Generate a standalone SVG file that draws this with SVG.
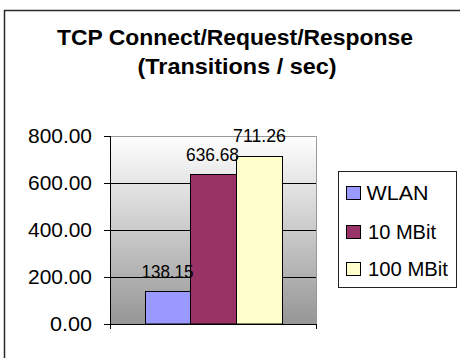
<svg xmlns="http://www.w3.org/2000/svg" width="460" height="358" viewBox="0 0 460 358">
  <defs>
    <linearGradient id="plotFill" x1="0" y1="0" x2="0" y2="1">
      <stop offset="0" stop-color="#ffffff"/>
      <stop offset="1" stop-color="#969696"/>
    </linearGradient>
  </defs>
  <style>
    text { font-family: "Liberation Sans", Arial, sans-serif; fill: #000; }
    .title { font-size: 22px; font-weight: bold; text-anchor: middle; }
    .axis { font-size: 20px; text-anchor: end; }
    .value { font-size: 19px; text-anchor: middle; }
    .legend { font-size: 21px; }
    .grid { stroke: #000; stroke-width: 1; }
    .bar { stroke: #000; stroke-width: 1; }
  </style>

  <rect x="0" y="0" width="460" height="358" fill="#ffffff"/>

  <!-- chart frame (top and left edges) -->
  <path d="M4.5,358 V10.5 H460" fill="none" stroke="#2a2a2a" stroke-width="1.5"/>

  <!-- title -->
  <g id="title">
    <text class="title" x="235" y="45" textLength="356" lengthAdjust="spacingAndGlyphs">TCP Connect/Request/Response</text>
    <text class="title" x="237" y="74" textLength="199" lengthAdjust="spacingAndGlyphs">(Transitions / sec)</text>
  </g>

  <!-- plot area -->
  <g id="plot-area">
    <rect x="110" y="136" width="206" height="188" fill="url(#plotFill)"/>
    <path d="M110,136.5 H316.5 V324" fill="none" stroke="#999999" stroke-width="1"/>
    <line class="grid" x1="104" y1="183.5" x2="316" y2="183.5"/>
    <line class="grid" x1="104" y1="230.5" x2="316" y2="230.5"/>
    <line class="grid" x1="104" y1="277.5" x2="316" y2="277.5"/>
    <line class="grid" x1="104" y1="136.5" x2="110" y2="136.5"/>
  </g>

  <!-- bars -->
  <g id="bar-wlan">
    <rect class="bar" x="145.5" y="291.5" width="45" height="32.5" fill="#9999ff"/>
  </g>
  <g id="bar-10mbit">
    <rect class="bar" x="190.5" y="174.5" width="46" height="149.5" fill="#993366"/>
  </g>
  <g id="bar-100mbit">
    <rect class="bar" x="236.5" y="156.5" width="46" height="167.5" fill="#ffffcc"/>
  </g>

  <!-- axes -->
  <g id="axes">
    <line class="grid" x1="110.5" y1="136" x2="110.5" y2="329"/>
    <line class="grid" x1="104" y1="324.5" x2="317" y2="324.5"/>
    <line class="grid" x1="316.5" y1="324" x2="316.5" y2="329"/>
  </g>

  <!-- value axis labels -->
  <g id="y-labels">
    <text class="axis" x="92" y="143" textLength="64" lengthAdjust="spacingAndGlyphs">800.00</text>
    <text class="axis" x="92" y="190" textLength="64" lengthAdjust="spacingAndGlyphs">600.00</text>
    <text class="axis" x="92" y="237" textLength="64" lengthAdjust="spacingAndGlyphs">400.00</text>
    <text class="axis" x="92" y="284" textLength="64" lengthAdjust="spacingAndGlyphs">200.00</text>
    <text class="axis" x="92" y="331" textLength="42" lengthAdjust="spacingAndGlyphs">0.00</text>
  </g>

  <!-- data labels -->
  <g id="data-labels">
    <text class="value" x="167.5" y="278" textLength="52" lengthAdjust="spacingAndGlyphs">138.15</text>
    <text class="value" x="212.5" y="160.5" textLength="53" lengthAdjust="spacingAndGlyphs">636.68</text>
    <text class="value" x="259.5" y="142" textLength="53" lengthAdjust="spacingAndGlyphs">711.26</text>
  </g>

  <!-- legend -->
  <g id="legend">
    <rect x="338.5" y="171.5" width="118" height="116" fill="#ffffff" stroke="#222222" stroke-width="1"/>
    <rect class="bar" x="346.5" y="186.5" width="14" height="13" fill="#9999ff"/>
    <text class="legend" x="366.5" y="200" textLength="62" lengthAdjust="spacingAndGlyphs">WLAN</text>
    <rect class="bar" x="346.5" y="225.5" width="14" height="13" fill="#993366"/>
    <text class="legend" x="368" y="239" textLength="68" lengthAdjust="spacingAndGlyphs">10 MBit</text>
    <rect class="bar" x="346.5" y="262.5" width="14" height="13" fill="#ffffcc"/>
    <text class="legend" x="368" y="276" textLength="80" lengthAdjust="spacingAndGlyphs">100 MBit</text>
  </g>
</svg>
